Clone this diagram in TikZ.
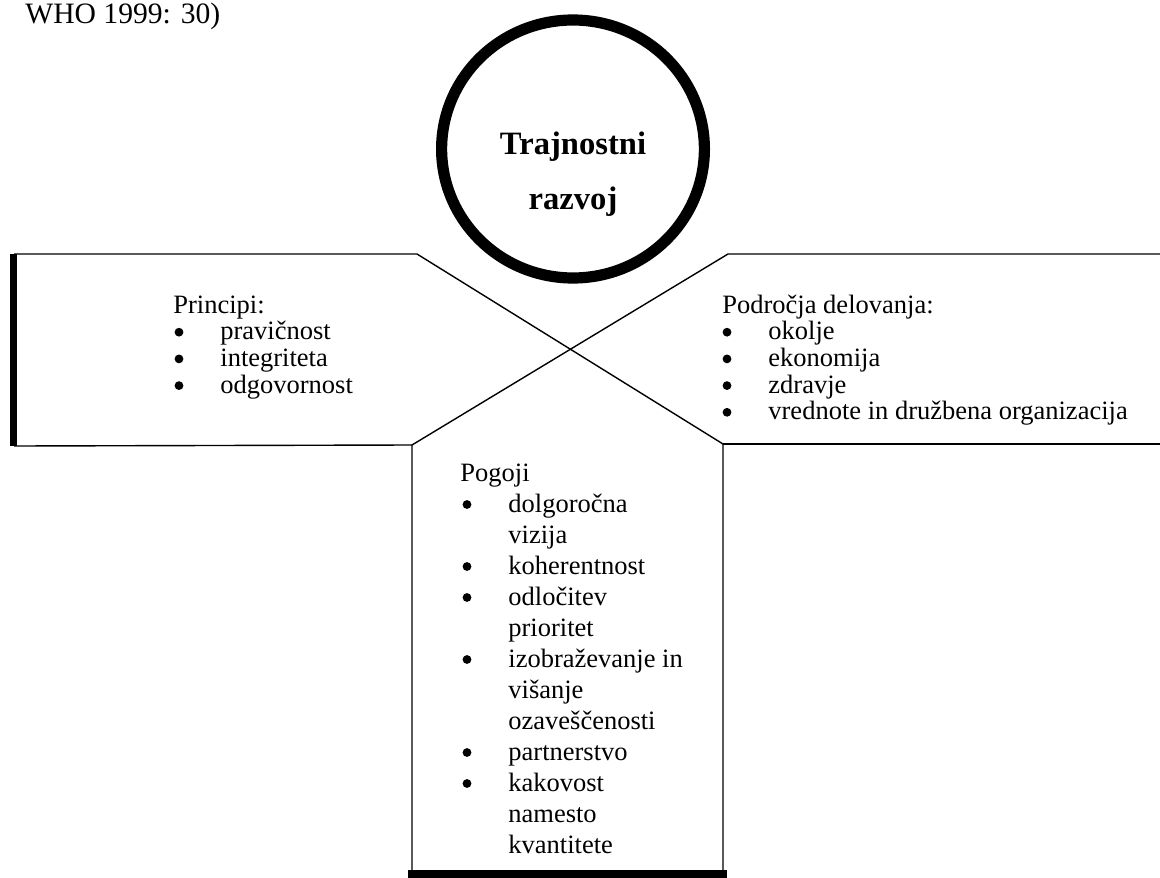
\documentclass[tikz,border=0pt]{standalone}
\usepackage{fontspec}
\setmainfont{Liberation Serif}
\usetikzlibrary{calc}
\begin{document}
\begin{tikzpicture}[x=0.5pt,y=-0.5pt,
  edge/.style={line width=0.7pt, line join=miter},
  heavy/.style={line width=3.6pt},
  txt/.style={font=\fontsize{13.25}{13.35}\selectfont, anchor=base west, inner sep=0pt},
  bul/.style={circle, fill=black, inner sep=0pt, minimum size=4.4pt},
  title/.style={font=\fontsize{16.3}{16.5}\selectfont\bfseries, anchor=base, inner sep=0pt}]
\useasboundingbox (0,0) rectangle (1160,877);

% source line
\node[txt, font=\fontsize{14.8}{15}\selectfont] (src) at (25,24) {WHO 1999: 30)};

% corner points of the three arms
\coordinate (A) at (417,254);
\coordinate (B) at (728,254);
\coordinate (C) at (412,445);
\coordinate (D) at (723,444);
\coordinate (LT) at (14,254);
\coordinate (LB) at (14,446);
\coordinate (RT) at (1160,254);
\coordinate (RB) at (1160,444);
\coordinate (BL) at (412,874);
\coordinate (BR) at (723,874);

% outlines: the two diagonals cross in the middle
\draw[edge] (LT) -- (A) -- (D) -- (BR);
\draw[edge] (RT) -- (B) -- (C) -- (BL);
\draw[edge] (LB) -- (C);
\draw[edge] (D) -- (RB);
% heavy edges
\draw[heavy] (13.3,254) -- (13.3,446);
\draw[heavy, line cap=rect] (BL) -- (BR);

% central circle
\draw[line width=5.6pt, fill=white] (573,149) ellipse [x radius=65.7pt, y radius=64.5pt];
\node[title] (t1) at (573,155) {Trajnostni};
\node[title] (t2) at (573,210) {razvoj};

% left arm
\node[txt] (ph) at (173,313) {Principi:};
\foreach \t [count=\i] in {pravičnost, integriteta, odgovornost} {
  \node[bul] (pb\i) at (179,305.5+26.7*\i) {};
  \node[txt] (pt\i) at (220,313+26.7*\i) {\t};
}

% right arm
\node[txt] (rh) at (722,313) {Področja delovanja:};
\foreach \t [count=\i] in {okolje, ekonomija, zdravje, vrednote in družbena organizacija} {
  \node[bul] (rb\i) at (727,305.5+26.7*\i) {};
  \node[txt] (rt\i) at (768,313+26.7*\i) {\t};
}

% bottom arm
\node[txt] (bh) at (460,481) {Pogoji};
\foreach \t/\b [count=\i] in {dolgoročna/1, vizija/0, koherentnost/1, odločitev/1, prioritet/0,
    izobraževanje in/1, višanje/0, ozaveščenosti/0, partnerstvo/1, kakovost/1, namesto/0, kvantitete/0} {
  \ifnum\b=1 \node[bul] (bb\i) at (467,473.5+31*\i) {};\fi
  \node[txt] (bt\i) at (508,481+31*\i) {\t};
}
\end{tikzpicture}
\end{document}
